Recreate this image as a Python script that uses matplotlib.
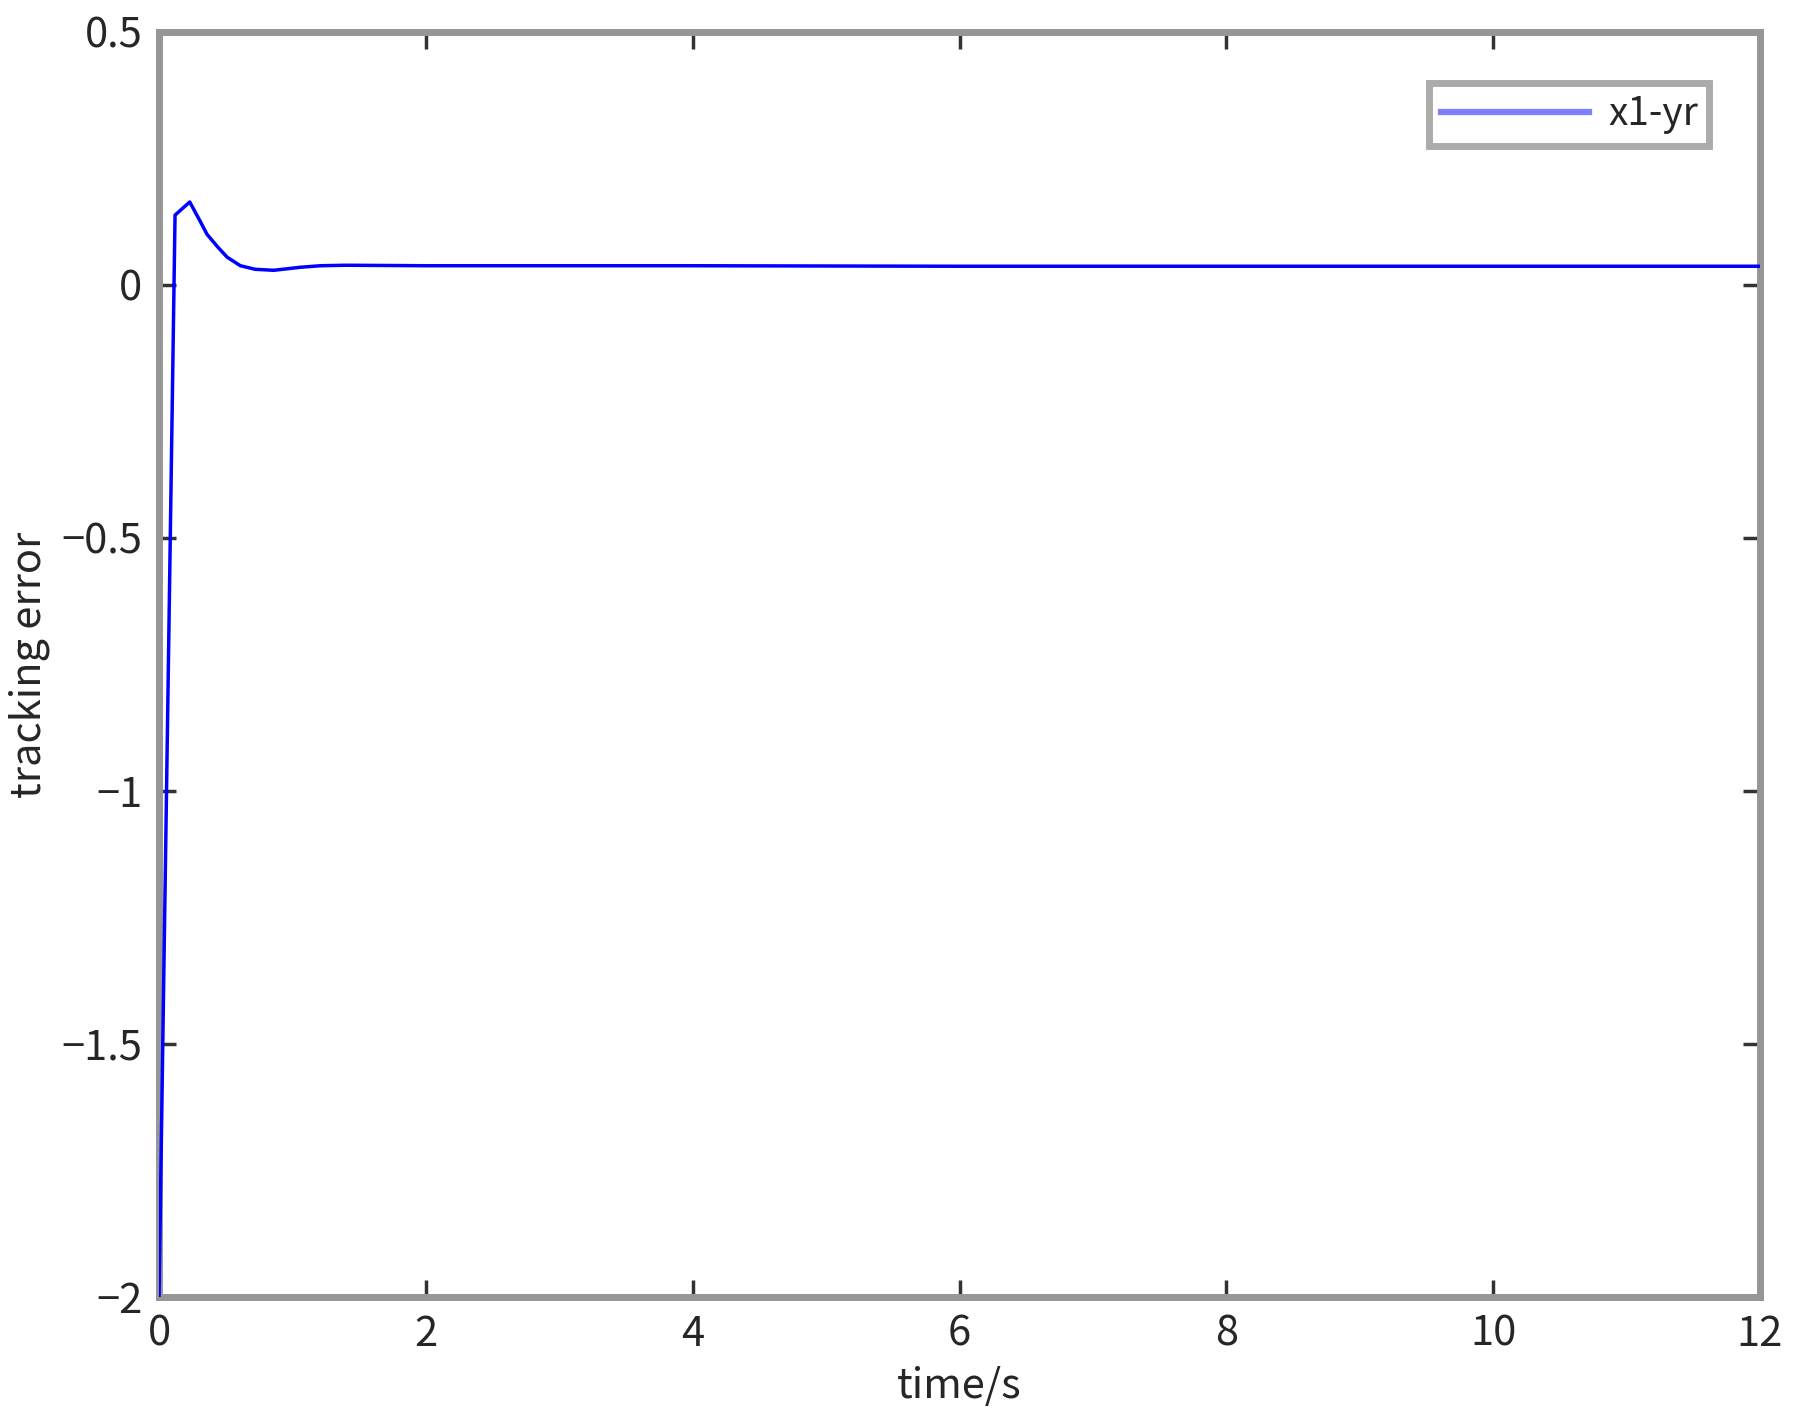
import numpy as np
import matplotlib.pyplot as plt

plt.rcParams['font.family'] = ['Noto Sans CJK JP', 'DejaVu Sans']
plt.rcParams['axes.unicode_minus'] = True

# tracking error
t = [0, 0.12, 0.23, 0.30, 0.36, 0.44, 0.51, 0.61, 0.72, 0.86, 1.06, 1.21, 1.4, 2, 4, 6, 8, 10, 12]
err = [-2, 0.138, 0.164, 0.13, 0.10, 0.075, 0.055, 0.038, 0.031, 0.029, 0.035, 0.038, 0.039,
       0.038, 0.038, 0.037, 0.037, 0.037, 0.037]

xticks = [0, 2, 4, 6, 8, 10, 12]
yticks = [-2, -1.5, -1, -0.5, 0, 0.5]
yticklabels = ['-2', '-1.5', '-1', '-0.5', '0', '0.5']

fig = plt.figure(figsize=(17.95, 14.21), dpi=100)
ax = fig.add_axes([0.0886, 0.0873, 0.8919, 0.8902])

ax.plot(t, err, color='#0000ff', lw=2.5, label='x1-yr', zorder=3)

ax.set_xlim(0, 12)
ax.set_ylim(-2, 0.5)
ax.set_xticks(xticks)
ax.set_yticks(yticks)
ax.set_yticklabels([s.replace('-', '\u2212') for s in yticklabels])

for s in ax.spines.values():
    s.set_color('#969696')
    s.set_linewidth(5)
ax.tick_params(direction='in', length=12, width=2.5, color='#333333',
               top=True, right=True, labelsize=30, labelcolor='#262626', pad=12)

ax.set_xlabel('time/s', fontsize=30, color='#262626', labelpad=8)
ax.set_ylabel('tracking error', fontsize=30, color='#262626', labelpad=8)

leg = ax.legend(loc='upper right', fontsize=28, fancybox=False, handlelength=3.8,
                borderpad=0.3, handletextpad=0.5, borderaxespad=1.3,
                labelcolor='#262626')
leg.get_frame().set_edgecolor('#969696')
leg.get_frame().set_linewidth(5)
leg.get_lines()[0].set_color('#8080ff')
leg.get_lines()[0].set_linewidth(4.5)

plt.savefig('out.png')
